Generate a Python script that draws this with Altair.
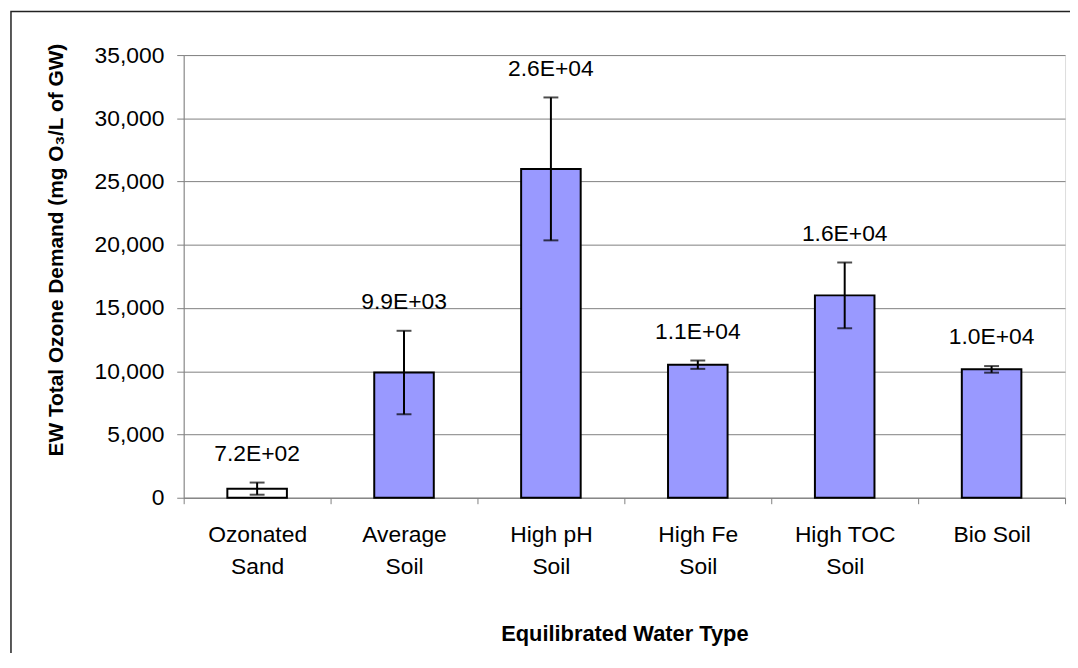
import altair as alt
import pandas as pd

categories = ["Ozonated Sand", "Average Soil", "High pH Soil", "High Fe Soil", "High TOC Soil", "Bio Soil"]
values = [720, 9900, 26000, 10520, 16000, 10150]
errors = [480, 3300, 5650, 330, 2600, 260]
y_ticks = [0, 5000, 10000, 15000, 20000, 25000, 30000, 35000]

df = pd.DataFrame({
    "cat": categories,
    "value": values,
    "err": errors,
})
df["lo"] = df["value"] - df["err"]
df["hi"] = df["value"] + df["err"]
df["label"] = [f"{v:.1E}" for v in values]

FONT = "Liberation Sans"
GRAY = "#808080"
LABEL_SIZE = 23

x_enc = alt.X(
    "cat:N",
    sort=categories,
    scale=alt.Scale(paddingInner=0, paddingOuter=0),
    axis=alt.Axis(
        title="Equilibrated Water Type",
        labelAngle=0,
        tickBand="extent",
        tickSize=6,
        tickColor=GRAY,
        domainColor=GRAY,
        labelFontSize=LABEL_SIZE,
        labelFont=FONT,
        labelColor="black",
        labelPadding=20,
        labelLineHeight=32,
        labelExpr="datum.label == 'Bio Soil' ? datum.label : [substring(datum.label, 0, lastindexof(datum.label, ' ')), substring(datum.label, lastindexof(datum.label, ' ') + 1)]",
        titleFont=FONT,
        titleFontSize=22,
        titleFontWeight="bold",
        titleColor="black",
        titleBaseline="alphabetic",
        titleY=144,
    ),
)

y_scale = alt.Scale(domain=[0, 35000])

base = alt.Chart(df).encode(x=x_enc)

bars = base.mark_bar(width=60, stroke="black", strokeWidth=2).encode(
    y=alt.Y(
        "value:Q",
        scale=y_scale,
        axis=alt.Axis(
            values=y_ticks,
            format=",d",
            grid=True,
            gridColor=GRAY,
            gridWidth=1,
            domainColor=GRAY,
            tickColor=GRAY,
            tickSize=7,
            labelFontSize=LABEL_SIZE,
            labelFont=FONT,
            labelColor="black",
            labelPadding=13,
            title="EW Total Ozone Demand (mg O\u2083/L of GW)",
            titleFont=FONT,
            titleFontSize=21,
            titleFontWeight="bold",
            titleColor="black",
            titleAngle=270,
            titleAlign="center",
            titleBaseline="alphabetic",
            titleX=-122,
            titleY=196,
        ),
    ),
    fill=alt.condition(alt.datum.cat == "Ozonated Sand", alt.value("white"), alt.value("#9999FF")),
)

err_rule = base.mark_rule(color="black", strokeWidth=2).encode(
    y=alt.Y("lo:Q", scale=y_scale), y2="hi:Q"
)
cap_hi = base.mark_tick(color="black", thickness=2, size=15, orient="horizontal").encode(
    y=alt.Y("hi:Q", scale=y_scale)
)
cap_lo = base.mark_tick(color="black", thickness=2, size=15, orient="horizontal").encode(
    y=alt.Y("lo:Q", scale=y_scale)
)

texts = base.mark_text(baseline="alphabetic", dy=-22, fontSize=LABEL_SIZE, font=FONT, color="black").encode(
    y=alt.Y("hi:Q", scale=y_scale), text="label:N"
)

frame = alt.Chart(alt.Data(values=[{"a": 1}])).mark_rect(
    fillOpacity=0, stroke="#222222", strokeWidth=1.5, clip=False
).encode(
    x=alt.value(-174), x2=alt.value(900), y=alt.value(-44), y2=alt.value(700)
)

chart = alt.layer(frame, bars, err_rule, cap_hi, cap_lo, texts).properties(
    width=888,
    height=446,
    autosize=alt.AutoSizeParams(type="none"),
    padding={"left": 177, "top": 45, "right": 5, "bottom": 154},
).configure_view(strokeWidth=0).configure(background="white")

chart.save("out.html", embed_options={"renderer": "svg", "actions": False})
